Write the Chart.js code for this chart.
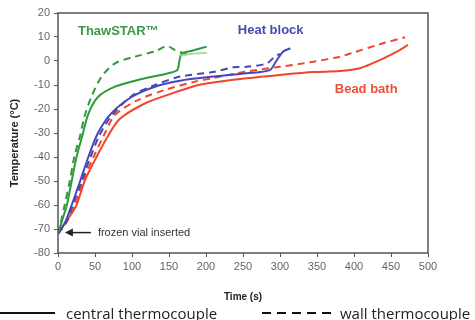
<!DOCTYPE html>
<html lang="en">
<head>
    <meta charset="UTF-8" />
    <title>Vial thawing curves</title>
    <script src="https://cdn.jsdelivr.net/npm/chart.js"></script>
    <style>
        html, body { margin: 0; padding: 0; background: #fff; }
        #wrap { width: 475px; height: 320px; position: relative; overflow: hidden; }
    </style>
</head>
<body>
    <div id="wrap"><canvas id="thawChart" width="475" height="320"></canvas></div>

    <script>
        // ThawSTAR
        const thawCentralTime = [0, 6, 12, 18.5, 25, 33, 41, 54, 77, 108, 149, 161, 164, 167, 180, 201];
        const thawCentralTemp = [-72, -66, -60, -50, -40, -31, -22, -15, -10.7, -7.9, -5.1, -3.8, 0, 3, 4.2, 6];
        const thawWallTime = [0, 4, 9, 16, 22, 30, 36, 45, 59, 77, 104, 131, 147, 158, 169, 175];
        const thawWallTemp = [-72, -67, -60, -50, -40, -31, -23, -15, -6.5, -1, 1.8, 4, 6.2, 4.6, 3.4, 3.5];
        const thawLateTime = [165, 180, 201];
        const thawLateTemp = [2.2, 3, 3.4];

        // Heat block
        const blockCentralTime = [0, 10, 18.5, 30, 41, 54, 72, 100, 131, 165, 210, 255, 286, 295, 304, 314];
        const blockCentralTemp = [-72, -67, -60, -50, -40, -30, -21.8, -14.9, -10.7, -8.2, -6.5, -5.1, -3.8, 0, 3.9, 5.3];
        const blockWallTime = [0, 11, 20, 32, 44, 56, 72, 100, 131, 165, 210, 237, 255, 282, 293, 300];
        const blockWallTemp = [-72, -67, -60, -50, -40, -31, -23, -14.5, -10, -6.5, -4.6, -2.6, -2.4, -1, 1.8, 3];

        // Bead bath
        const beadCentralTime = [0, 12, 25, 36, 52, 68, 84, 118, 154, 190, 212, 255, 300, 345, 381, 408, 435, 458, 473];
        const beadCentralTemp = [-72, -66.5, -60, -50, -40, -31, -24, -17.6, -13.5, -10, -8.9, -7.2, -5.8, -4.6, -4.2, -3, 0.4, 3.9, 6.7];
        const beadWallTime = [0, 12, 23, 34, 48, 62, 77, 108, 145, 185, 208, 255, 300, 345, 381, 399, 435, 469];
        const beadWallTemp = [-72, -67, -60, -50, -40, -31, -22.5, -16.3, -12, -8.6, -7.2, -4.4, -2.4, -0.3, 1.8, 3.5, 7, 9.9];

        const xTicks = [0, 50, 100, 150, 200, 250, 300, 350, 400, 450, 500];
        const yTicks = [-80, -70, -60, -50, -40, -30, -20, -10, 0, 10, 20];

        const green = '#2f9a3c';
        const blue = '#4646b8';
        const red = '#f2452b';

        function pts(times, temps) {
            return times.map((t, i) => ({ x: t, y: temps[i] }));
        }

        function series(times, temps, color, dashed, width) {
            return {
                data: pts(times, temps),
                borderColor: color,
                borderWidth: width || 2,
                borderDash: dashed ? [7, 5] : [],
                pointRadius: 0,
                tension: 0.3,
                fill: false
            };
        }

        const overlay = {
            id: 'overlay',
            afterDraw(chart) {
                const ctx = chart.ctx;
                const a = chart.chartArea;
                const xs = chart.scales.x;
                const ys = chart.scales.y;
                ctx.save();

                // box around plot
                ctx.strokeStyle = '#555';
                ctx.lineWidth = 1.5;
                ctx.strokeRect(a.left, a.top, a.right - a.left, a.bottom - a.top);

                // series labels
                ctx.font = 'bold 13px Arial';
                ctx.textBaseline = 'middle';
                ctx.fillStyle = '#3a9a45';
                ctx.fillText('ThawSTAR™', xs.getPixelForValue(27), ys.getPixelForValue(12.2));
                ctx.fillStyle = '#4a4ab0';
                ctx.fillText('Heat block', xs.getPixelForValue(243), ys.getPixelForValue(12.8));
                ctx.fillStyle = '#ef4f37';
                ctx.fillText('Bead bath', xs.getPixelForValue(374), ys.getPixelForValue(-11.7));

                // insertion note with arrow
                const ay = ys.getPixelForValue(-71.5);
                const ax = xs.getPixelForValue(12);
                ctx.strokeStyle = '#222';
                ctx.fillStyle = '#222';
                ctx.lineWidth = 1.5;
                ctx.beginPath();
                ctx.moveTo(ax + 3, ay);
                ctx.lineTo(ax + 24, ay);
                ctx.stroke();
                ctx.beginPath();
                ctx.moveTo(ax - 2, ay);
                ctx.lineTo(ax + 6, ay - 4);
                ctx.lineTo(ax + 6, ay + 4);
                ctx.closePath();
                ctx.fill();
                ctx.font = '11px Arial';
                ctx.fillStyle = '#333';
                ctx.fillText('frozen vial inserted', ax + 31, ay);

                // axis titles
                ctx.font = 'bold 10px Arial';
                ctx.fillStyle = '#222';
                ctx.textAlign = 'center';
                ctx.fillText('Time (s)', (a.left + a.right) / 2, 297);
                ctx.save();
                ctx.font = 'bold 11px Arial';
                ctx.translate(15, (a.top + a.bottom) / 2 + 10);
                ctx.rotate(-Math.PI / 2);
                ctx.fillText('Temperature (°C)', 0, 0);
                ctx.restore();

                // line style key at the bottom
                ctx.textAlign = 'left';
                ctx.strokeStyle = '#111';
                ctx.lineWidth = 2;
                ctx.beginPath();
                ctx.moveTo(0, 313);
                ctx.lineTo(55, 313);
                ctx.stroke();
                ctx.setLineDash([9, 6]);
                ctx.beginPath();
                ctx.moveTo(262, 313);
                ctx.lineTo(334, 313);
                ctx.stroke();
                ctx.setLineDash([]);
                ctx.font = '15px "Open Sans", Arial';
                ctx.fillStyle = '#222';
                ctx.fillText('central thermocouple', 66, 315);
                ctx.fillText('wall thermocouple', 340, 315);

                ctx.restore();
            }
        };

        new Chart(document.getElementById('thawChart'), {
            type: 'line',
            data: {
                datasets: [
                    series(thawLateTime, thawLateTemp, '#a9d48f', false, 1.8),
                    series(thawCentralTime, thawCentralTemp, green, false),
                    series(thawWallTime, thawWallTemp, green, true),
                    series(blockCentralTime, blockCentralTemp, blue, false),
                    series(blockWallTime, blockWallTemp, blue, true),
                    series(beadCentralTime, beadCentralTemp, red, false),
                    series(beadWallTime, beadWallTemp, red, true)
                ]
            },
            options: {
                responsive: false,
                animation: false,
                layout: { padding: { top: 13, right: 47, bottom: 30, left: 0 } },
                plugins: { legend: { display: false }, tooltip: { enabled: false } },
                scales: {
                    x: {
                        type: 'linear',
                        min: 0,
                        max: 500,
                        afterBuildTicks: (s) => { s.ticks = xTicks.map(v => ({ value: v })); },
                        afterFit: (s) => { s.height = 37; },
                        border: { display: false },
                        grid: { drawOnChartArea: false, tickLength: 4, color: '#555' },
                        ticks: { color: '#666', font: { family: 'Arial', size: 11 }, padding: 3, maxRotation: 0 }
                    },
                    y: {
                        min: -80,
                        max: 20,
                        afterBuildTicks: (s) => { s.ticks = yTicks.map(v => ({ value: v })); },
                        afterFit: (s) => { s.width = 58; },
                        border: { display: false },
                        grid: { drawOnChartArea: false, tickLength: 4, color: '#555' },
                        ticks: { color: '#666', font: { family: 'Arial', size: 11 }, padding: 4 }
                    }
                }
            },
            plugins: [overlay]
        });
    </script>
</body>
</html>
